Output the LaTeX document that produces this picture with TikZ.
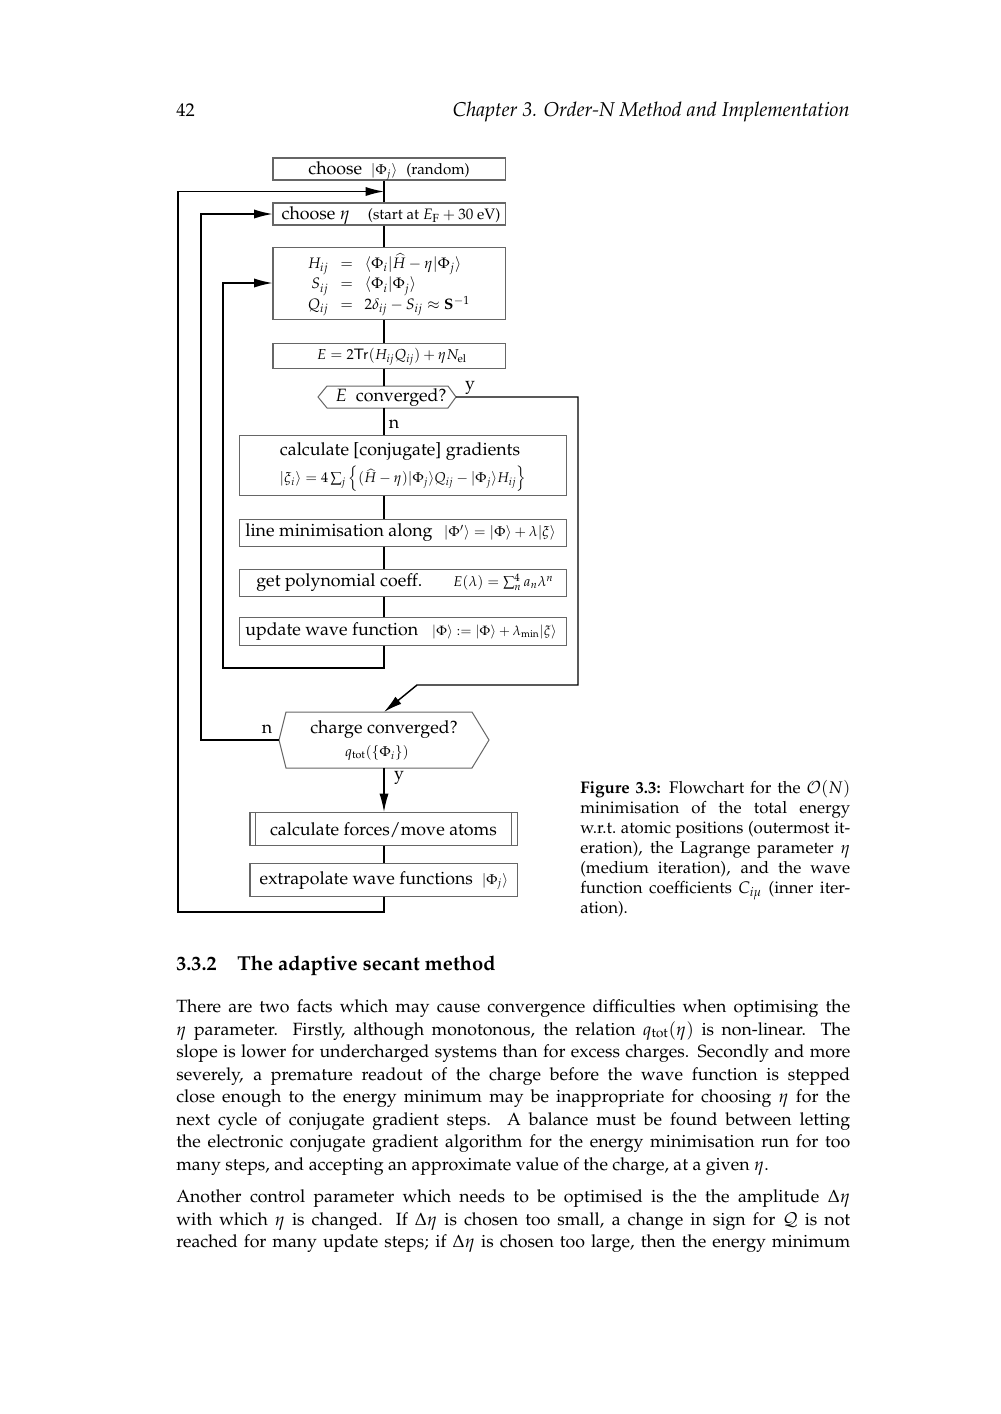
\documentclass[tikz,border=0pt]{standalone}
\usepackage[T1]{fontenc}
\usepackage{mathpazo}
\usepackage{amsmath,amssymb}
\usetikzlibrary{arrows.meta,calc}
\newcommand\fbig{\fontsize{10.6pt}{13pt}\selectfont}
\newcommand\fmid{\fontsize{9pt}{11pt}\selectfont}
\newcommand\fsmall{\fontsize{8.4pt}{10pt}\selectfont}
\newcommand\fbody{\fontsize{10.55pt}{13.43pt}\selectfont}
\newcommand\fcap{\fontsize{10pt}{11.9pt}\selectfont}
\tikzset{
  pbox/.style 2 args={draw=black!60, line width=0.6pt, minimum width={#1*0.595pt}, minimum height={#2*0.595pt}, inner sep=1pt, align=center},
  hexline/.style={draw=black!60, line width=0.6pt},
  conn/.style={line width=0.85pt, black},
  arr/.style={conn, -{Latex[length=11pt,width=5.5pt]}},
  lab/.style={inner sep=0pt},
  txt/.style={inner sep=0pt, anchor=base west},
}
\begin{document}
\begin{tikzpicture}[x=0.595pt,y=-0.595pt]
\fill[white] (0,0) rectangle (1000,1414);
\useasboundingbox (0,0) rectangle (1000,1414);

% page header
\node[txt, font=\fontsize{10.95pt}{13pt}\selectfont] (pnum) at (176,116.5) {42};
\node[txt, anchor=base east, font=\fontsize{11.9pt}{14pt}\selectfont\itshape] (head) at (850,116.5) {Chapter 3. Order-N Method and Implementation};

% spine
\coordinate (sp) at (384,0);

% boxes (text placed separately so it can be centred optically)
\node[pbox={232}{22}] (b1) at (389,169) {};
\node[lab] (t1) at (389,171) {\fbig choose\enspace{\fsmall$|\Phi_j\rangle$}\enspace{\fmid(random)}};
\node[pbox={232}{22}] (b2) at (389,214) {};
\node[lab] (t2) at (391,216) {\fbig choose\ $\eta$\quad{\fmid(start at $E_\mathrm{F}+30$\ eV)}};
\node[pbox={232}{72}] (b3) at (389,283) {};
\node[lab] (t3) at (389,285) {\fmid$\renewcommand\arraystretch{1.1}\begin{array}{r@{\hspace{7pt}}c@{\hspace{7pt}}l}
 H_{ij} & = & \langle\Phi_i|\widehat{H}-\eta|\Phi_j\rangle\\
 S_{ij} & = & \langle\Phi_i|\Phi_j\rangle\\
 Q_{ij} & = & 2\delta_{ij}-S_{ij}\approx\mathbf{S}^{-1}
\end{array}$};
\node[pbox={232}{25}] (b4) at (389,355.5) {};
\node[lab] (t4) at (392,357) {\fontsize{8.6pt}{10pt}\selectfont$E=2\mathsf{Tr}(H_{ij}Q_{ij})+\eta N_\mathrm{el}$};

% hexagon 1
\coordinate (h1L) at (318,397);
\coordinate (h1R) at (456,397);
\coordinate (h1T) at (384,386);
\coordinate (h1B) at (384,408);
\draw[hexline] (h1L) -- (327,386) -- (448,386) -- (h1R) -- (448,408) -- (327,408) -- cycle;
\node[lab] (h1) at (391,398) {\fbig$E$\enspace converged?};

\node[pbox={327}{60}] (b5) at (403,465.5) {};
\node[lab] (t5a) at (400,452) {\fbig calculate [conjugate] gradients};
\node[lab] (t5b) at (403,479) {\fsmall$|\xi_i\rangle=4\sum_j\left\{(\widehat{H}-\eta)|\Phi_j\rangle Q_{ij}-|\Phi_j\rangle H_{ij}\right\}$};
\node[pbox={327}{27}] (b6) at (403,532.5) {};
\node[lab, anchor=west] (t6a) at (245,533) {\fbig line minimisation along};
\node[lab, anchor=east] (t6b) at (556,533) {\fsmall$|\Phi'\rangle=|\Phi\rangle+\lambda|\xi\rangle$};
\node[pbox={327}{27}] (b7) at (403,582.5) {};
\node[lab, anchor=west] (t7a) at (256,583) {\fbig get polynomial coeff.};
\node[lab, anchor=east] (t7b) at (554,582) {\fsmall$E(\lambda)=\sum_n^4 a_n\lambda^n$};
\node[pbox={327}{28}] (b8) at (403,631.5) {};
\node[lab, anchor=west] (t8a) at (245,632) {\fbig update wave function};
\node[lab, anchor=east] (t8b) at (557,632) {\fontsize{8pt}{10pt}\selectfont$|\Phi\rangle:=|\Phi\rangle+\lambda_{\min}|\xi\rangle$};

% hexagon 2
\coordinate (h2L) at (279,740);
\coordinate (h2R) at (489,740);
\coordinate (h2T) at (384,712);
\coordinate (h2B) at (384,768);
\draw[hexline] (h2L) -- (286,712) -- (472,712) -- (h2R) -- (472,768) -- (286,768) -- cycle;
\node[lab] (h2a) at (384,730) {\fbig charge converged?};
\node[lab] (h2b) at (377,753) {\fsmall$q_\mathrm{tot}(\{\Phi_i\})$};

\node[pbox={267}{33}] (b9) at (383.5,829) {};
\node[lab] (t9) at (383.5,830) {\fbig calculate forces/move atoms};
\draw[hexline] ($(b9.north west)+(6,0)$) -- ($(b9.south west)+(6,0)$);
\draw[hexline] ($(b9.north east)+(-6,0)$) -- ($(b9.south east)+(-6,0)$);
\node[pbox={267}{33}] (b10) at (383.5,879.5) {};
\node[lab] (t10) at (384,880.5) {\fbig extrapolate wave functions\enspace{\fsmall$|\Phi_j\rangle$}};

% labels
\node[lab] (ly1) at (470,388) {\fbig y};
\node[lab] (ln1) at (394,424) {\fbig n};
\node[lab] (ln2) at (267,729) {\fbig n};
\node[lab] (ly2) at (399,778) {\fbig y};

% connectors
\coordinate (c1) at (223,668);
\coordinate (c2) at (578,685);
\coordinate (c3) at (417,685);
\coordinate (c4) at (201,740);
\coordinate (c5) at (178,912);
\coordinate (top) at (384,191.5);
\draw[conn] (b1.south -| sp) -- (b2.north -| sp);
\draw[conn] (b2.south -| sp) -- (b3.north -| sp);
\draw[conn] (b3.south -| sp) -- (b4.north -| sp);
\draw[conn] (b4.south -| sp) -- (h1T);
\draw[conn] (h1B) -- (b5.north -| sp);
\draw[conn] (b5.south -| sp) -- (b6.north -| sp);
\draw[conn] (b6.south -| sp) -- (b7.north -| sp);
\draw[conn] (b7.south -| sp) -- (b8.north -| sp);
\draw[arr] (b8.south -| sp) |- (c1) |- (b3.west);
\draw[arr] (h1R) -| (c2) -- (c3) -- (h2T);
\draw[arr] (h2L) -- (c4) |- (b2.west);
\draw[arr] (h2B) -- (b9.north -| sp);
\draw[conn] (b9.south -| sp) -- (b10.north -| sp);
\draw[arr] (b10.south -| sp) |- (c5) |- (top);

% caption
\node[txt, text width=160.6pt, align=justify, font=\fcap] (cap) at (580,793) {%
\textbf{Figure 3.3:}\enspace Flowchart for the $\mathcal{O}(N)$\linebreak
minimisation of the total energy\linebreak
w.r.t.\ atomic positions (outermost it-\linebreak
eration), the Lagrange parameter $\eta$\linebreak
(medium iteration), and the wave\linebreak
function coefficients $C_{i\mu}$ (inner iter-\linebreak
ation).};

% section heading
\node[txt, font=\fontsize{12pt}{14pt}\selectfont\bfseries] (sec) at (176,970) {\makebox[36.3pt][l]{3.3.2}The adaptive secant method};

% body text
\node[txt, text width=401pt, align=justify, font=\fbody] (body) at (176,1012.5) {%
\parskip=5.6pt
There are two facts which may cause convergence difficulties when optimising the\linebreak
$\eta$ parameter. Firstly, although monotonous, the relation $q_\mathrm{tot}(\eta)$ is non-linear. The\linebreak
slope is lower for undercharged systems than for excess charges. Secondly and more\linebreak
severely, a premature readout of the charge before the wave function is stepped\linebreak
close enough to the energy minimum may be inappropriate for choosing $\eta$ for the\linebreak
next cycle of conjugate gradient steps. A balance must be found between letting\linebreak
the electronic conjugate gradient algorithm for the energy minimisation run for too\linebreak
many steps, and accepting an approximate value of the charge, at a given $\eta$.\par
Another control parameter which needs to be optimised is the the amplitude $\Delta\eta$\linebreak
with which $\eta$ is changed. If $\Delta\eta$ is chosen too small, a change in sign for $\mathcal{Q}$ is not\linebreak
reached for many update steps; if $\Delta\eta$ is chosen too large, then the energy minimum{\parfillskip=0pt\par}};
\end{tikzpicture}
\end{document}
